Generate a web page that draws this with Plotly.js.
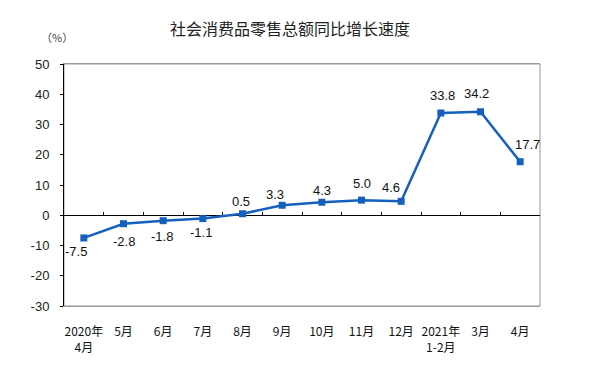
<!DOCTYPE html>
<html>
<head>
<meta charset="utf-8">
<script src="https://cdn.plot.ly/plotly-3.0.1.min.js"></script>
<style>html,body{margin:0;padding:0;background:#fff;}#chart{width:590px;height:372px;}</style>
</head>
<body>
<div id="chart"></div>
<script>
const categories = ["2020年<br>4月","5月","6月","7月","8月","9月","10月","11月","12月","2021年<br>1-2月","3月","4月"];
const growth = [-7.5, -2.8, -1.8, -1.1, 0.5, 3.3, 4.3, 5.0, 4.6, 33.8, 34.2, 17.7];
const labelText = ["-7.5","-2.8","-1.8","-1.1","0.5","3.3","4.3","5.0","4.6","33.8","34.2","17.7"];
const yTicks = [-30,-20,-10,0,10,20,30,40,50];

// label placement style (pixel offsets from each point: right, down)
const labelStyle = {
  dx: [-8, 0, -1, -2, -2, -7, 0, 0, -10, 2, -4, 7],
  dy: [14, 18, 16, 14, -12, -11, -12, -17, -14, -18, -18, -17]
};

const blue = "#1560bd";
const traces = [
  {
    x: categories, y: growth, type: "scatter", mode: "lines+markers",
    line: {color: blue, width: 2.5},
    marker: {symbol: "square", size: 7, color: blue},
    hoverinfo: "x+y", cliponaxis: false
  },
  {
    x: categories, y: growth, type: "scatter", mode: "markers",
    xaxis: "x2", marker: {opacity: 0}, hoverinfo: "skip", showlegend: false
  }
];

const valueLabels = growth.map((v, i) => ({
  x: categories[i], y: v, xref: "x", yref: "y",
  text: labelText[i], showarrow: false,
  xanchor: "center", yanchor: "middle",
  xshift: labelStyle.dx[i], yshift: -labelStyle.dy[i],
  font: {family: "Liberation Sans, Arial, sans-serif", size: 13, color: "#111"}
}));

const layout = {
  width: 590, height: 372,
  margin: {l: 64, r: 50, t: 64, b: 66},
  paper_bgcolor: "#fff", plot_bgcolor: "#fff",
  showlegend: false,
  title: {
    text: "社会消费品零售总额同比增长速度",
    font: {family: "Noto Sans CJK SC, sans-serif", size: 16, color: "#222"},
    x: 0.4915, xref: "container", xanchor: "center",
    y: 0.922, yref: "container", yanchor: "middle"
  },
  xaxis: {
    type: "category", categoryorder: "array", categoryarray: categories,
    range: [-0.5, 11.5], showgrid: false, zeroline: false,
    showline: true, linecolor: "#999", linewidth: 1, mirror: true,
    ticks: "", ticklabelstandoff: 15,
    tickfont: {family: "Noto Sans CJK SC, sans-serif", size: 12, color: "#111"}
  },
  xaxis2: {
    type: "category", categoryorder: "array", categoryarray: categories,
    range: [-0.5, 11.5], overlaying: "x", anchor: "free", position: 0.375,
    showgrid: false, zeroline: false, showline: false, showticklabels: false,
    ticks: "inside", ticklen: 3, tickcolor: "#000", tickwidth: 1, tickson: "boundaries"
  },
  yaxis: {
    range: [-30, 50], tickvals: yTicks, ticktext: yTicks.map(String),
    showgrid: false, zeroline: true, zerolinecolor: "#000", zerolinewidth: 1,
    showline: true, linecolor: "#000", linewidth: 1,
    ticks: "outside", ticklen: 3, tickcolor: "#000", ticklabelstandoff: 8,
    tickfont: {family: "Liberation Sans, Arial, sans-serif", size: 13, color: "#222"}
  },
  shapes: [
    {type: "rect", xref: "paper", yref: "paper", x0: 0, x1: 1, y0: 0, y1: 1,
     line: {color: "#999", width: 1}, layer: "below"}
  ],
  annotations: valueLabels.concat([
    {text: "（%）", xref: "paper", yref: "paper", x: -0.015, y: 1.111,
     xanchor: "center", yanchor: "middle", showarrow: false,
     font: {family: "Noto Sans CJK SC, sans-serif", size: 11, color: "#444"}}
  ])
};

Plotly.newPlot("chart", traces, layout, {displayModeBar: false, staticPlot: true});
</script>
</body>
</html>
